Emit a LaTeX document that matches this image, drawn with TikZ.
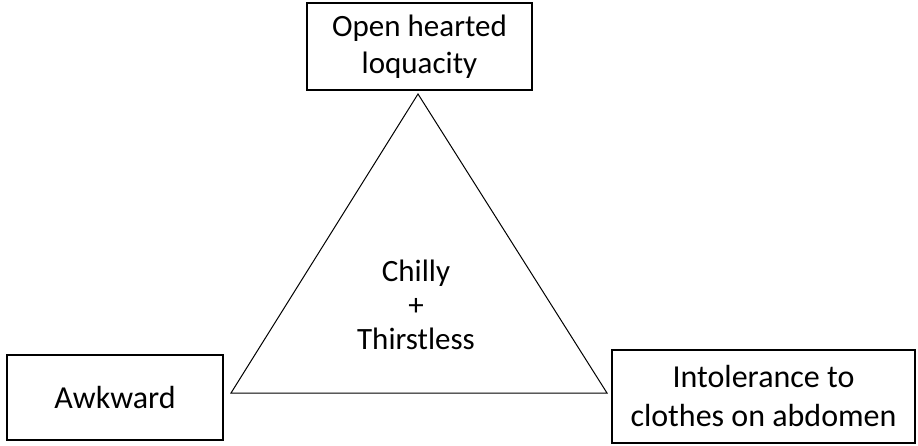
\documentclass[tikz,border=0pt]{standalone}
\usepackage{fontspec}
\setmainfont{Carlito}
\usepackage{tikz}
\usetikzlibrary{positioning,calc}

\tikzset{
    symbox/.style={draw, line width=1.6pt, align=center, inner sep=0pt,
        font=\fontsize{31}{37}\selectfont},
    bigbox/.style={symbox, font=\fontsize{32}{39}\selectfont},
    symtext/.style={align=center, inner sep=0pt, font=\fontsize{31}{34}\selectfont}
}

\begin{document}
\begin{tikzpicture}[x=1pt, y=-1pt]
    \useasboundingbox (0,0) rectangle (918,446);

    % Boxes
    \node[symbox, minimum width=225pt, minimum height=87pt] (loquacity) at (419.5,46.5) {Open hearted\\loquacity};
    \node[bigbox, minimum width=216pt, minimum height=85pt] (awkward) at (115,397.5) {Awkward};
    \node[bigbox, minimum width=303pt, minimum height=93pt] (clothes) at (763.5,396.5) {Intolerance to\\clothes on abdomen};

    % Triangle
    \coordinate (apex) at (418,94);
    \coordinate (lcorner) at (231,393);
    \coordinate (rcorner) at (607,393);
    \draw[line width=1pt, line join=miter] (apex) -- (lcorner) -- (rcorner) -- cycle;

    % Centre
    \node[symtext] (chilly) at (416,305) {Chilly\\+\\Thirstless};
\end{tikzpicture}
\end{document}
